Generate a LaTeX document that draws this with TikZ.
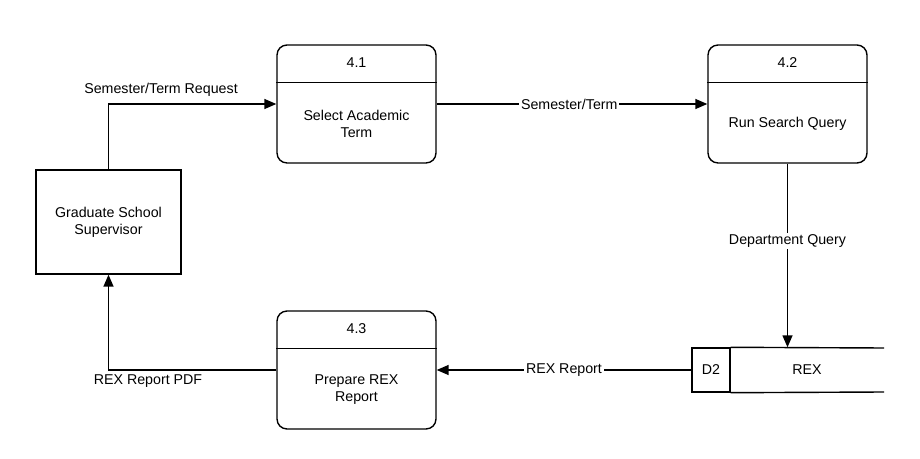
\documentclass[tikz,border=0pt]{standalone}
\usepackage{fontspec}
\setmainfont{Liberation Sans}
\usetikzlibrary{arrows.meta}

\begin{document}
\begin{tikzpicture}[x=0.02cm,y=-0.02cm,font=\fontsize{8.1}{9.8}\selectfont,
  line width=0.8pt,
  proc/.style={draw,rounded corners=0.2cm,minimum width=3.18cm,minimum height=2.36cm},
  entity/.style={draw,minimum width=2.9cm,minimum height=2.08cm,align=center},
  flow/.style={-{Triangle[length=2.4mm,width=2mm]}},
  lbl/.style={fill=white,inner sep=1pt}]
\useasboundingbox (0,0) rectangle (920,459);
\node[entity] (gss) at (108.5,222) {Graduate School\\Supervisor};
\node[proc] (p41) at (356.5,104) {};
\node[proc] (p42) at (787.5,104) {};
\node[proc] (p43) at (356.5,370) {};
\draw ([yshift=-0.76cm]p41.north west) -- ([yshift=-0.76cm]p41.north east);
\draw ([yshift=-0.76cm]p42.north west) -- ([yshift=-0.76cm]p42.north east);
\draw ([yshift=-0.76cm]p43.north west) -- ([yshift=-0.76cm]p43.north east);
\node (n41) at ([yshift=-0.36cm]p41.north) {4.1};
\node (n42) at ([yshift=-0.36cm]p42.north) {4.2};
\node (n43) at ([yshift=-0.36cm]p43.north) {4.3};
\node[align=center] (t41) at ([yshift=0.8cm]p41.south) {Select Academic\\Term};
\node[align=center] (t42) at ([yshift=0.8cm]p42.south) {Run Search Query};
\node[align=center] (t43) at ([yshift=0.8cm]p43.south) {Prepare REX\\Report};
\node[draw,minimum width=0.76cm,minimum height=0.88cm] (d2) at (711,370) {D2};
\coordinate (rexne) at (884,348);
\coordinate (rexse) at (884,392);
\draw (d2.north east) -- (rexne);
\draw (d2.south east) -- (rexse);
\node (rex) at (807,370) {REX};
\draw[flow] (gss.north) |- (p41.west);
\node (l1) at (161,90) {Semester/Term Request};
\draw[flow] (p41.east) -- (p42.west) node[lbl,pos=0.49] (l2) {Semester/Term};
\draw[flow] (p42.south) -- (p42.south |- d2.north) node[lbl,pos=0.42] (l3) {Department Query};
\draw[flow] (d2.west) -- (d2.west -| p43.east) node[lbl,pos=0.5] (l4) {REX Report};
\draw[flow] (p43.west) -| (gss.south);
\node (l5) at (148,381) {REX Report PDF};
\end{tikzpicture}
\end{document}
